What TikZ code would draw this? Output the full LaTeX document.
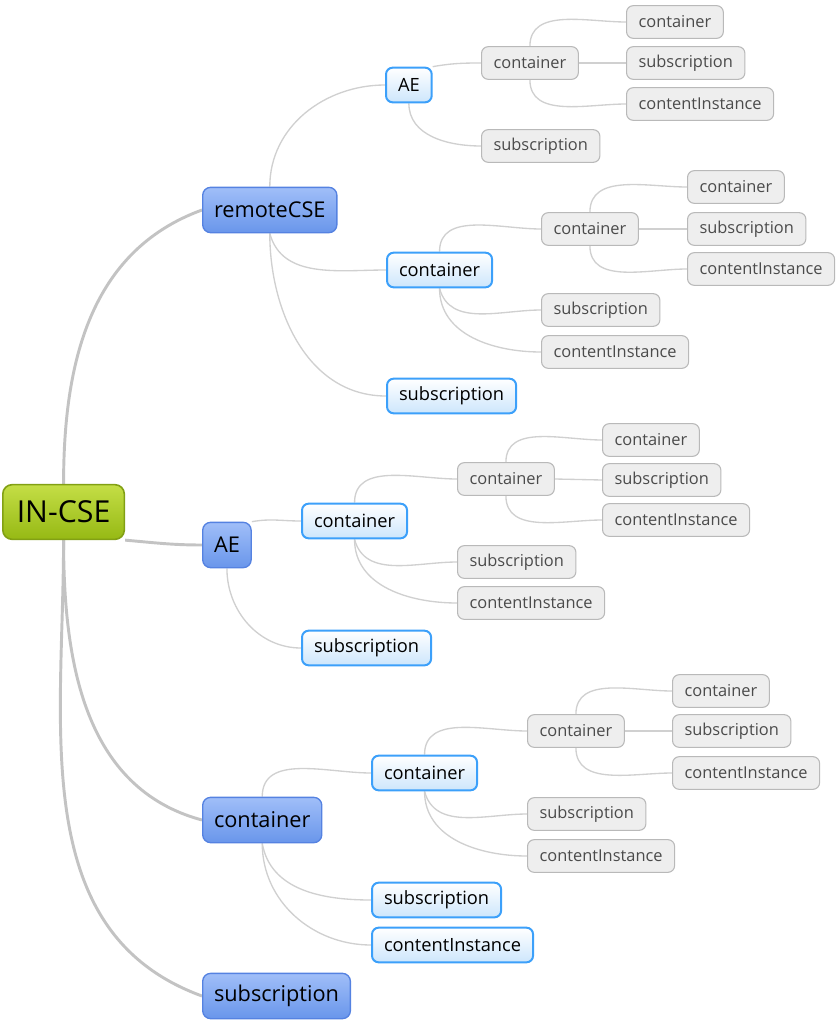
\documentclass[tikz,border=0pt]{standalone}
\usepackage{fontspec}
\setmainfont{Open Sans}
\usetikzlibrary{backgrounds}
\definecolor{roottop}{RGB}{196,222,70}
\definecolor{rootbot}{RGB}{150,185,20}
\definecolor{rootedge}{RGB}{130,160,20}
\definecolor{maintop}{RGB}{160,190,248}
\definecolor{mainbot}{RGB}{105,150,235}
\definecolor{mainedge}{RGB}{85,130,225}
\definecolor{subbot}{RGB}{205,230,252}
\definecolor{subedge}{RGB}{60,160,250}
\definecolor{leaffill}{RGB}{238,238,238}
\definecolor{leafedge}{RGB}{185,185,185}
\definecolor{leaftext}{RGB}{75,75,75}
\definecolor{trunkline}{RGB}{195,195,195}
\definecolor{twigline}{RGB}{208,208,208}
\begin{document}
\begin{tikzpicture}[x=0.75pt,y=-0.75pt,
    rootbox/.style={anchor=west,rounded corners=7pt,draw=rootedge,line width=1.2pt,
      top color=roottop,bottom color=rootbot,minimum height=41pt,inner xsep=10.5pt,
      font=\fontsize{22.7}{26}\selectfont},
    mainbox/.style={anchor=west,rounded corners=6pt,draw=mainedge,line width=1pt,
      top color=maintop,bottom color=mainbot,minimum height=34pt,inner xsep=8.5pt,
      font=\fontsize{16.3}{19}\selectfont},
    subbox/.style={anchor=west,rounded corners=5pt,draw=subedge,line width=1.5pt,
      top color=white,bottom color=subbot,minimum height=26pt,inner xsep=9pt,
      font=\fontsize{13.7}{16}\selectfont},
    leaf/.style={anchor=west,rounded corners=5pt,draw=leafedge,line width=0.8pt,
      fill=leaffill,text=leaftext,minimum height=24.5pt,inner xsep=9pt,
      font=\fontsize{12.3}{14}\selectfont},
    trunk/.style={draw=trunkline,line width=2.2pt},
    twig/.style={draw=twigline,line width=1pt}]
  \useasboundingbox (0,0) rectangle (837,1024);
  % root and first level
  \node[rootbox] (incse) at (2,512) {IN-CSE};
  \node[mainbox] (rcse) at (202,210) {remoteCSE};
  \node[mainbox] (ae) at (202,545) {AE};
  \node[mainbox] (cnt) at (202,820) {container};
  \node[mainbox] (sub) at (202,996) {subscription};
  % second level
  \node[subbox] (rae) at (385,85) {AE};
  \node[subbox] (rcnt) at (386,270) {container};
  \node[subbox] (rsub) at (386,396) {subscription};
  \node[subbox] (acnt) at (301,521) {container};
  \node[subbox] (asub) at (301,648) {subscription};
  \node[subbox] (ccnt) at (371,773) {container};
  \node[subbox] (csub) at (371,900) {subscription};
  \node[subbox] (cci) at (371,945) {contentInstance};
  % third level
  \node[leaf] (raec) at (481,63) {container};
  \node[leaf] (raes) at (481,146) {subscription};
  \node[leaf] (rcc) at (541,229) {container};
  \node[leaf] (rcs) at (541,310) {subscription};
  \node[leaf] (rci) at (541,352) {contentInstance};
  \node[leaf] (acc) at (457,479) {container};
  \node[leaf] (acs) at (457,562) {subscription};
  \node[leaf] (aci) at (457,603) {contentInstance};
  \node[leaf] (ccc) at (527,731) {container};
  \node[leaf] (ccs) at (527,814) {subscription};
  \node[leaf] (cci2) at (527,856) {contentInstance};
  % fourth level, one triple under every container of the third level
  \foreach \p/\x/\ya/\yb/\yc in {raec/626/22/63/104, rcc/687/187/229/269,
      acc/602/440/480/520, ccc/672/691/731/773}{
    \node[leaf] (\p-c) at (\x,\ya) {container};
    \node[leaf] (\p-s) at (\x,\yb) {subscription};
    \node[leaf] (\p-i) at (\x,\yc) {contentInstance};
    \begin{scope}[on background layer]
      \draw[twig] (\p.north) to[out=90,in=180] (\p-c.west);
      \draw[twig] (\p.east) -- (\p-s.west);
      \draw[twig] (\p.south) to[out=-90,in=180] (\p-i.west);
    \end{scope}
  }
  \begin{scope}[on background layer]
    \draw[trunk] (incse.north) to[out=90,in=200] (rcse.west);
    \draw[trunk] (incse.south east) to[out=-5,in=180] (ae.west);
    \draw[trunk] (incse.south) to[out=-90,in=165] (cnt.west);
    \draw[trunk] (incse.south) to[out=-90,in=160] (sub.west);
    \draw[twig] (rcse.north) to[out=90,in=180] (rae.west);
    \draw[twig] (rcse.south) to[out=-75,in=180] (rcnt.west);
    \draw[twig] (rcse.south) to[out=-90,in=180] (rsub.west);
    \draw[twig] (ae.north east) to[out=10,in=180] (acnt.west);
    \draw[twig] (ae.south) to[out=-90,in=180] (asub.west);
    \draw[twig] (cnt.north) to[out=90,in=180] (ccnt.west);
    \draw[twig] (cnt.south) to[out=-80,in=180] (csub.west);
    \draw[twig] (cnt.south) to[out=-90,in=180] (cci.west);
    \draw[twig] (rae.north east) to[out=10,in=180] (raec.west);
    \draw[twig] (rae.south) to[out=-90,in=180] (raes.west);
    \draw[twig] (rcnt.north) to[out=90,in=180] (rcc.west);
    \draw[twig] (rcnt.south) to[out=-75,in=180] (rcs.west);
    \draw[twig] (rcnt.south) to[out=-90,in=180] (rci.west);
    \draw[twig] (acnt.north) to[out=90,in=180] (acc.west);
    \draw[twig] (acnt.south) to[out=-75,in=180] (acs.west);
    \draw[twig] (acnt.south) to[out=-90,in=180] (aci.west);
    \draw[twig] (ccnt.north) to[out=90,in=180] (ccc.west);
    \draw[twig] (ccnt.south) to[out=-75,in=180] (ccs.west);
    \draw[twig] (ccnt.south) to[out=-90,in=180] (cci2.west);
  \end{scope}
\end{tikzpicture}
\end{document}
